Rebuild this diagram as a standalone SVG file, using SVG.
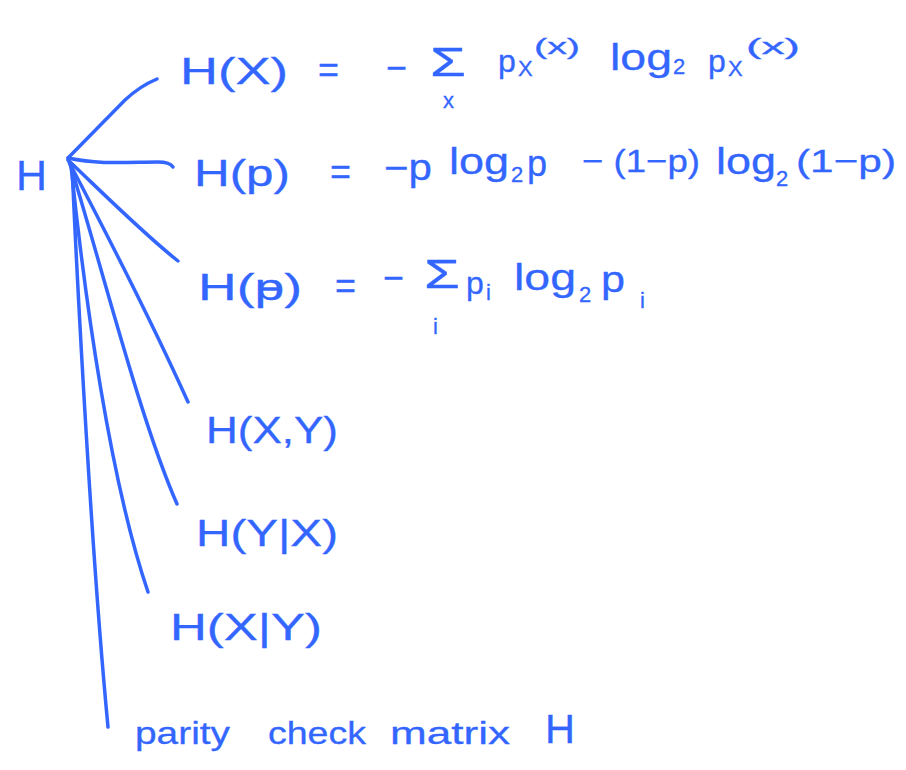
<svg xmlns="http://www.w3.org/2000/svg" width="906" height="770" viewBox="0 0 906 770">
<style>
text{font-family:"Liberation Sans","DejaVu Sans",sans-serif;fill:#3366ff;stroke:#3366ff;stroke-width:0.3}
.b{font-size:36px}
.m{font-size:32px}
.s{font-size:22px}
.g{font-size:40px}
.c path{fill:none;stroke:#3366ff;stroke-width:3.5;stroke-linecap:round}
</style>
<rect width="906" height="770" fill="#fff"/>
<g class="c" id="connectors">
<path d="M68,158 L125,100 Q140,86 157,79"/>
<path d="M68,158 C100,165 130,162 158,162 C166,162 171,164 173,167"/>
<path d="M68,160 C110,200 145,235 178,261"/>
<path d="M69,162 C110,240 160,340 188,402"/>
<path d="M70,164 C100,260 140,420 177,504"/>
<path d="M71,166 C85,300 110,480 148,592"/>
<path d="M72,166 C78,300 92,560 108,727"/>
</g>
<g id="root"><text x="16" y="190" style="font-size:42px" textLength="31" lengthAdjust="spacingAndGlyphs">H</text></g>
<g id="hx">
<text class="b" x="180" y="84" textLength="108" lengthAdjust="spacingAndGlyphs">H(X)</text>
<text class="b" x="318" y="82">=</text>
<text class="b" x="386" y="80">−</text>
<text class="g" x="430" y="76" textLength="36" lengthAdjust="spacingAndGlyphs">Σ</text>
<text class="s" x="443" y="108">x</text>
<text class="m" x="498" y="72">p</text><text class="s" x="518" y="76">X</text><text class="s" x="534" y="54" textLength="46" lengthAdjust="spacingAndGlyphs">(x)</text>
<text class="b" x="610" y="70" textLength="62" lengthAdjust="spacingAndGlyphs">log</text><text class="s" x="673" y="74">2</text>
<text class="m" x="708" y="72">p</text><text class="s" x="728" y="76">X</text><text class="s" x="746" y="54" textLength="54" lengthAdjust="spacingAndGlyphs">(x)</text>
</g>
<g id="hp">
<text class="b" x="194" y="186" textLength="96" lengthAdjust="spacingAndGlyphs">H(p)</text>
<text class="b" x="330" y="184">=</text>
<text class="b" x="384" y="180" textLength="48" lengthAdjust="spacingAndGlyphs">−p</text>
<text class="b" x="449" y="174" textLength="60" lengthAdjust="spacingAndGlyphs">log</text><text class="s" x="511" y="182">2</text><text class="b" x="527" y="176">p</text>
<text class="m" x="582" y="172" textLength="118" lengthAdjust="spacingAndGlyphs">− (1−p)</text>
<text class="b" x="716" y="174" textLength="60" lengthAdjust="spacingAndGlyphs">log</text><text class="s" x="776" y="186">2</text>
<text class="m" x="796" y="172" textLength="100" lengthAdjust="spacingAndGlyphs">(1−p)</text>
</g>
<g id="hpvec">
<text class="b" x="198" y="300" textLength="104" lengthAdjust="spacingAndGlyphs">H(p)</text>
<path d="M262,289 L278,289" stroke="#3366ff" stroke-width="3.5" stroke-linecap="round"/>
<text class="b" x="335" y="298">=</text>
<text class="b" x="383" y="290">−</text>
<text class="g" x="424" y="288" textLength="36" lengthAdjust="spacingAndGlyphs">Σ</text>
<text class="s" x="433" y="334">i</text>
<text class="m" x="466" y="294">p</text><text class="s" x="486" y="300">i</text>
<text class="b" x="514" y="290" textLength="62" lengthAdjust="spacingAndGlyphs">log</text><text class="s" x="579" y="302">2</text>
<text class="b" x="601" y="292" textLength="24" lengthAdjust="spacingAndGlyphs">p</text><text class="s" x="640" y="308">i</text>
</g>
<g id="hxy"><text class="b" x="206" y="443" textLength="132" lengthAdjust="spacingAndGlyphs">H(X,Y)</text></g>
<g id="hyx"><text class="b" x="196" y="546" textLength="142" lengthAdjust="spacingAndGlyphs">H(Y|X)</text></g>
<g id="hxgy"><text class="b" x="170" y="640" textLength="152" lengthAdjust="spacingAndGlyphs">H(X|Y)</text></g>
<g id="parity">
<text class="m" x="135" y="744" textLength="95" lengthAdjust="spacingAndGlyphs">parity</text>
<text class="m" x="268" y="744" textLength="98" lengthAdjust="spacingAndGlyphs">check</text>
<text class="m" x="390" y="744" textLength="120" lengthAdjust="spacingAndGlyphs">matrix</text>
<text x="545" y="743" style="font-size:40px" textLength="30" lengthAdjust="spacingAndGlyphs">H</text>
</g>
</svg>
